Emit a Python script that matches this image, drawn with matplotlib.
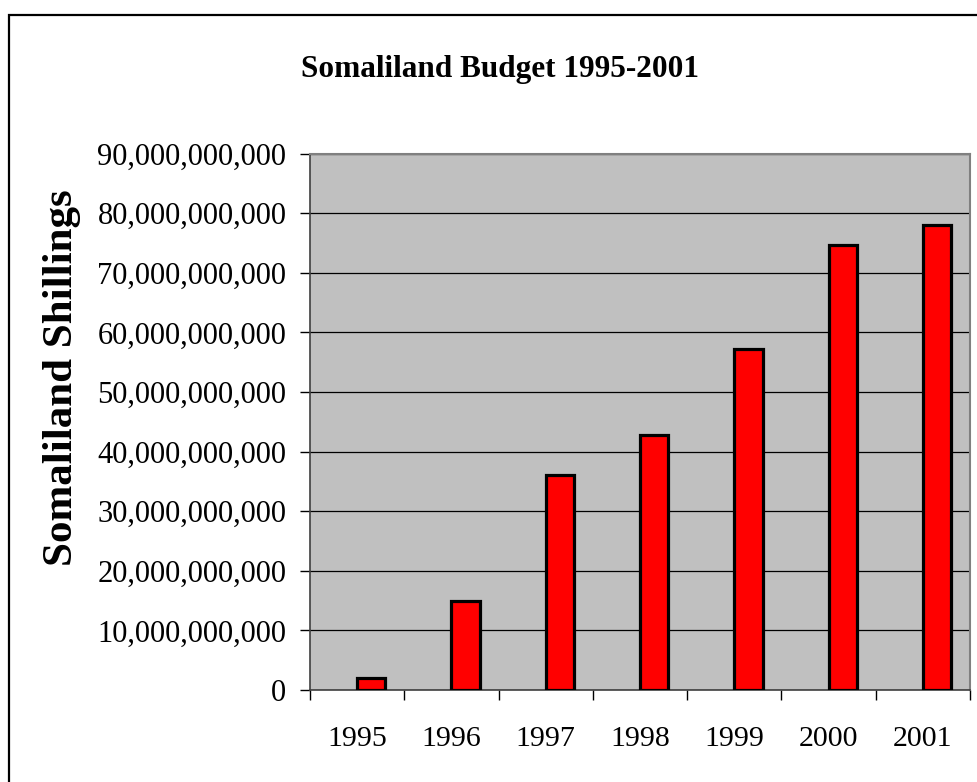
import matplotlib
matplotlib.use("Agg")
import matplotlib.pyplot as plt
from matplotlib.ticker import FuncFormatter, FixedLocator
from matplotlib.patches import Rectangle

years = ["1995", "1996", "1997", "1998", "1999", "2000", "2001"]
budget = [2.0e9, 15.0e9, 36.1e9, 42.8e9, 57.2e9, 74.6e9, 78.0e9]
yticks = [0, 10e9, 20e9, 30e9, 40e9, 50e9, 60e9, 70e9, 80e9, 90e9]

plt.rcParams['font.family'] = ['Liberation Serif', 'DejaVu Serif']

W, H = 977, 782
fig = plt.figure(figsize=(W / 100, H / 100), dpi=100)
fig.patch.set_facecolor('white')

# outer chart frame (left and top visible)
fig.patches.append(Rectangle((9 / W, -0.1), 1.2, 1 - 15 / H + 0.1, transform=fig.transFigure,
                             fill=False, edgecolor='black', linewidth=1.6, zorder=0))

ax = fig.add_axes([310 / W, 1 - 690 / H, (970 - 310) / W, (690 - 153.5) / H])
ax.set_facecolor('#C0C0C0')

x = list(range(len(years)))
ax.bar(x, budget, width=0.3, align='edge', color='#FF0000', edgecolor='black',
       linewidth=2.3, zorder=3)

ax.set_xlim(-0.5, len(years) - 0.5)
ax.set_ylim(0, 90e9)

ax.yaxis.set_major_locator(FixedLocator(yticks))
ax.yaxis.set_major_formatter(FuncFormatter(lambda v, p: f"{int(round(v)):,}"))
ax.grid(axis='y', color='black', linewidth=0.9, zorder=1)
ax.set_axisbelow(True)

ax.set_xticks([i - 0.5 for i in range(len(years) + 1)])
ax.set_xticklabels([])
ax.set_xticks(x, minor=True)
ax.set_xticklabels(years, minor=True)
ax.tick_params(axis='x', which='major', length=7, width=1.0, color='black', direction='out')
ax.tick_params(axis='x', which='minor', length=0, pad=26, labelsize=21.5)
ax.tick_params(axis='y', length=7, width=1.0, color='black', direction='out', pad=10, labelsize=22)

for s in ['top', 'right']:
    ax.spines[s].set_color('#808080')
    ax.spines[s].set_linewidth(1.5)
ax.spines['left'].set_color('#404040')
ax.spines['left'].set_linewidth(1.2)
ax.spines['bottom'].set_color('#404040')
ax.spines['bottom'].set_linewidth(1.2)

fig.text(62 / W, 1 - 378 / H, "Somaliland Shillings", rotation=90, ha='center', va='center',
         fontsize=31, fontweight='bold')
fig.text(500 / W, 1 - 70 / H, "Somaliland Budget 1995-2001", ha='center', va='center',
         fontsize=22.5, fontweight='bold')

fig.savefig("out.png", dpi=100)
